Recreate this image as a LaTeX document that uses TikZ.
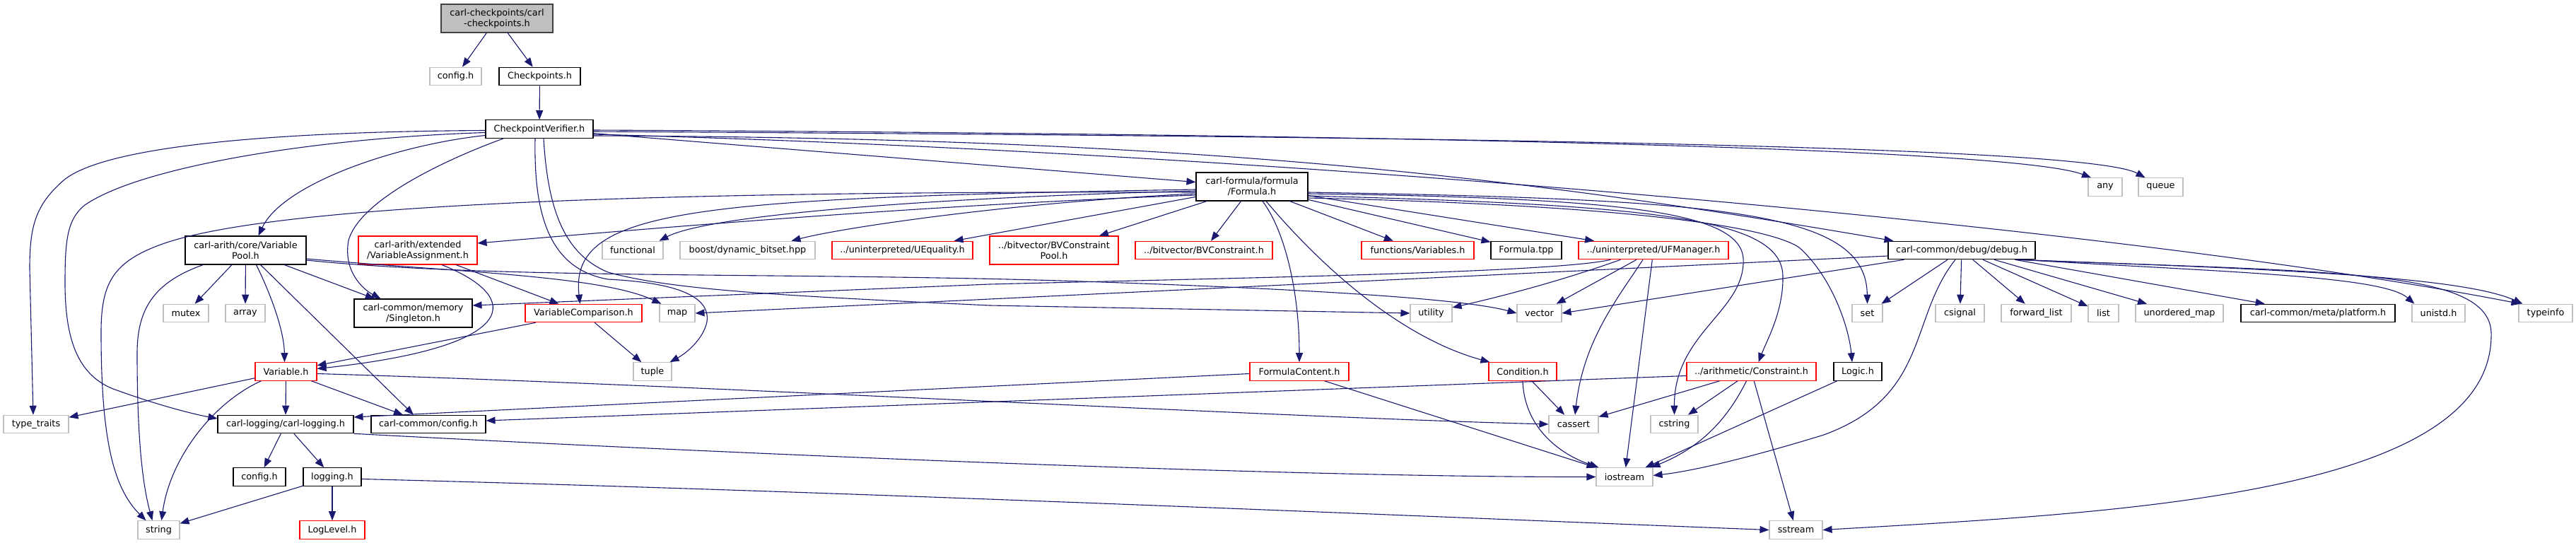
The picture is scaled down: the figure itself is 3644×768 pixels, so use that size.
\documentclass[tikz,border=0pt]{standalone}
\usepackage{fontspec}
\setmainfont{DejaVu Sans}
\usetikzlibrary{arrows.meta,calc}
\definecolor{edgec}{HTML}{191970}
\definecolor{extc}{HTML}{BFBFBF}
\definecolor{truncc}{HTML}{FF0000}
\definecolor{topfill}{HTML}{BFBFBF}
\definecolor{topdraw}{HTML}{404040}
\newcommand\nfont{\fontsize{12.8pt}{15pt}\selectfont}
\tikzset{
  nd/.style={draw=black, line width=1.1pt, fill=white, minimum height=25.5pt, inner xsep=3pt, inner ysep=0pt, font=\nfont, align=center},
  extn/.style={nd, draw=extc},
  trn/.style={nd, draw=truncc},
  topn/.style={nd, draw=topdraw, fill=topfill},
  two/.style={minimum height=40pt},
  mw/.style={minimum width=#1},
  dep/.style={draw=edgec, line width=1.1pt, -{Triangle[length=13pt,width=10pt]}},
}
\begin{document}
\begin{tikzpicture}[x=1pt,y=-1pt]
\fill[white] (0,0) rectangle (3644,768);
\useasboundingbox (0,0) rectangle (3644,768);
% nodes
\node[topn,two,mw=158] (top) at (703,26) {carl-checkpoints/carl\\-checkpoints.h};
\node[extn,mw=73] (cfga) at (644.5,108) {config.h};
\node[nd,mw=115] (cp) at (763.5,108) {Checkpoints.h};
\node[nd,mw=152] (cv) at (763,182.5) {CheckpointVerifier.h};
\node[nd,two,mw=158] (formula) at (1771,264) {carl-formula/formula\\/Formula.h};
\node[extn,mw=48] (any) at (2978,264.5) {any};
\node[extn,mw=63] (queue) at (3056.5,264.5) {queue};
\node[nd,two,mw=171] (vpool) at (347.5,354) {carl-arith/core/Variable\\Pool.h};
\node[trn,two,mw=168] (vassign) at (591,354) {carl-arith/extended\\/VariableAssignment.h};
\node[extn,mw=86] (functional) at (895,354) {functional};
\node[extn,mw=191] (boost) at (1057.5,354) {boost/dynamic\_bitset.hpp};
\node[trn,mw=199] (uequality) at (1276.5,354) {../uninterpreted/UEquality.h};
\node[trn,two,mw=182] (bvpool) at (1491,354) {../bitvector/BVConstraint\\Pool.h};
\node[trn,mw=194] (bvcons) at (1703,354) {../bitvector/BVConstraint.h};
\node[trn,mw=159] (fvars) at (2005.5,354) {functions/Variables.h};
\node[nd,mw=100] (ftpp) at (2159,354) {Formula.tpp};
\node[trn,mw=212] (ufman) at (2339,354) {../uninterpreted/UFManager.h};
\node[nd,mw=208] (debug) at (2775,354) {carl-common/debug/debug.h};
\node[extn,mw=64] (mutex) at (263,443) {mutex};
\node[extn,mw=56] (array) at (347,443) {array};
\node[nd,two,mw=167] (singleton) at (584.5,443) {carl-common/memory\\/Singleton.h};
\node[trn,mw=165] (vcomp) at (825.5,443) {VariableComparison.h};
\node[extn,mw=50] (map) at (958,443) {map};
\node[extn,mw=59] (utility) at (2024.5,443) {utility};
\node[extn,mw=63] (vector) at (2177.5,443) {vector};
\node[extn,mw=43] (set) at (2641.5,443) {set};
\node[extn,mw=69] (csignal) at (2772.5,443) {csignal};
\node[extn,mw=99] (fwdlist) at (2880.5,443) {forward\_list};
\node[extn,mw=43] (list) at (2975.5,443) {list};
\node[extn,mw=124] (umap) at (3083,443) {unordered\_map};
\node[nd,mw=218] (platform) at (3279,443) {carl-common/meta/platform.h};
\node[extn,mw=75] (unistd) at (3449.5,443) {unistd.h};
\node[extn,mw=76] (typeinfo) at (3601,443) {typeinfo};
\node[trn,mw=87] (variable) at (404.5,525.5) {Variable.h};
\node[extn,mw=54] (tuple) at (923,525.5) {tuple};
\node[trn,mw=140] (fcontent) at (1838,525.5) {FormulaContent.h};
\node[trn,mw=96] (condition) at (2154,525.5) {Condition.h};
\node[trn,mw=183] (constraint) at (2477.5,525.5) {../arithmetic/Constraint.h};
\node[nd,mw=68] (logic) at (2628,525.5) {Logic.h};
\node[extn,mw=92] (typetraits) at (51,600) {type\_traits};
\node[nd,mw=192] (logging) at (404,600) {carl-logging/carl-logging.h};
\node[nd,mw=162] (ccconfig) at (606,600) {carl-common/config.h};
\node[extn,mw=70] (cassert) at (2226,600) {cassert};
\node[extn,mw=67] (cstring) at (2368.5,600) {cstring};
\node[nd,mw=74] (cfgb) at (367,674.5) {config.h};
\node[nd,mw=82] (loggingh) at (470,674.5) {logging.h};
\node[extn,mw=80] (iostream) at (2298,674.5) {iostream};
\node[extn,mw=59] (string) at (224.5,749.5) {string};
\node[trn,mw=92] (loglevel) at (470,749.5) {LogLevel.h};
\node[extn,mw=75] (sstream) at (2540.5,749.5) {sstream};
% edges
\draw[dep] (top) -- (cfga);
\draw[dep] (top) -- (cp);
\draw[dep] (cp) -- (cv);
\draw[dep] ($(cv.west)+(0,2)$) .. controls (400,186) and (150,205) .. (90,255) .. controls (50,290) and (42,320) .. (42,380) -- ($(typetraits.north)+(-4,0)$);
\draw[dep] ($(cv.west)+(0,5)$) .. controls (450,195) and (200,235) .. (120,290) .. controls (95,310) and (92,340) .. (92,400) .. controls (92,480) and (110,530) .. (160,550) .. controls (220,572) and (270,585) .. ($(logging.west)+(0,-8)$);
\draw[dep] ($(cv.west)+(0,9)$) .. controls (560,205) and (400,260) .. ($(vpool.north)+(18,0)$);
\draw[dep] ($(cv.south west)+(26,0)$) .. controls (640,222) and (510,280) .. (493,340) .. controls (485,385) and (515,410) .. ($(singleton.north)+(-46,0)$);
\draw[dep] ($(cv.south)+(-6,0)$) .. controls (755,300) and (775,380) .. (860,395) .. controls (960,400) and (1005,420) .. (1000,455) .. controls (995,480) and (970,500) .. ($(tuple.north east)+(-3,0)$);
\draw[dep] ($(cv.south)+(6,0)$) .. controls (775,300) and (800,360) .. (860,385) .. controls (950,410) and (1100,418) .. (1400,432) -- (utility.west);
\draw[dep] (cv) -- (formula);
\draw[dep] ($(cv.east)+(0,1.5)$) .. controls (2000,190) and (2850,210) .. ($(any.north)+(-20,0)$);
\draw[dep] ($(cv.east)+(0,3.5)$) .. controls (2000,193) and (2950,205) .. ($(queue.north)+(-22,0)$);
\draw[dep] ($(cv.east)+(0,7.5)$) .. controls (1800,215) and (3000,320) .. ($(typeinfo.north west)+(3,0)$);
\draw[dep] ($(cv.east)+(0,9.5)$) .. controls (1700,195) and (2150,250) .. ($(debug.north west)+(8,0)$);
% VariablePool
\draw[dep] ($(vpool.south west)+(26,0)$) .. controls (215,400) and (194,440) .. (194,500) .. controls (194,630) and (203,690) .. ($(string.north)+(-9,0)$);
\draw[dep] (vpool) -- (mutex);
\draw[dep] (vpool) -- (array);
\draw[dep] ($(vpool.south)+(15,0)$) .. controls (385,420) and (402,470) .. ($(variable.north)+(-2,0)$);
\draw[dep] ($(vpool.south)+(21,0)$) -- ($(ccconfig.north)+(-21,0)$);
\draw[dep] (vpool) -- (singleton);
\draw[dep] ($(vpool.east)+(0,12)$) .. controls (650,385) and (850,390) .. ($(map.north west)+(3,0)$);
\draw[dep] ($(vpool.east)+(0,14)$) .. controls (700,395) and (1100,385) .. (1500,397) .. controls (1900,410) and (2080,425) .. (vector.west);
% VariableAssignment, VariableComparison
\draw[dep] ($(vassign.south)+(34,0)$) .. controls (740,420) and (740,490) .. ($(variable.east)+(0,-4)$);
\draw[dep] (vassign) -- (vcomp);
\draw[dep] (vcomp) -- (variable);
\draw[dep] (vcomp) -- (tuple);
% Variable
\draw[dep] (variable) -- (typetraits);
\draw[dep] (variable) -- (logging);
\draw[dep] (variable) -- (ccconfig);
\draw[dep] ($(variable.south west)+(9,0)$) .. controls (300,570) and (240,650) .. ($(string.north)+(4,0)$);
\draw[dep] ($(variable.east)+(0,3)$) .. controls (1000,545) and (1800,590) .. (cassert.west);
% logging
\draw[dep] (logging) -- (cfgb);
\draw[dep] (logging) -- (loggingh);
\draw[dep] (logging.south east) .. controls (1000,640) and (1800,675) .. (iostream.west);
\draw[dep] (loggingh) -- (string);
\draw[dep] (loggingh) -- (loglevel);
\draw[dep] ($(loggingh.east)+(0,3)$) .. controls (1200,695) and (2000,730) .. (sstream.west);
% Formula
\draw[dep] ($(formula.west)+(0,8)$) .. controls (1000,270) and (400,285) .. (230,345) .. controls (160,370) and (143,400) .. (143,470) .. controls (143,620) and (160,690) .. ($(string.north)+(-18,0)$);
\draw[dep] ($(formula.west)+(0,12)$) .. controls (1300,290) and (900,325) .. ($(vassign.east)+(0,-10)$);
\draw[dep] ($(formula.west)+(0,4)$) .. controls (980,280) and (805,295) .. ($(vcomp.north)+(-5,0)$);
\draw[dep] ($(formula.west)+(0,6)$) .. controls (1300,280) and (1000,305) .. ($(functional.north east)+(-6,0)$);
\draw[dep] ($(formula.west)+(0,10)$) .. controls (1450,285) and (1200,320) .. ($(boost.north)+(62,0)$);
\draw[dep] (formula) -- (uequality);
\draw[dep] (formula) -- (bvpool);
\draw[dep] (formula) -- (bvcons);
\draw[dep] (formula) -- (fvars);
\draw[dep] ($(formula.south)+(15,0)$) .. controls (1820,330) and (1838,420) .. (fcontent.north);
\draw[dep] ($(formula.south)+(20,0)$) .. controls (1880,390) and (1990,480) .. ($(condition.north west)+(2,0)$);
\draw[dep] (formula) -- (ftpp);
\draw[dep] (formula) -- (ufman);
\draw[dep] ($(formula.east)+(0,8)$) .. controls (2450,282) and (2640,300) .. (set.north);
\draw[dep] ($(formula.east)+(0,10)$) .. controls (2300,280) and (2460,300) .. (2466,365) .. controls (2470,440) and (2368,470) .. (cstring.north);
\draw[dep] ($(formula.east)+(0,13)$) .. controls (2350,290) and (2520,310) .. (2522,390) .. controls (2523,440) and (2500,480) .. ($(constraint.north)+(10,0)$);
\draw[dep] ($(formula.east)+(0,16)$) .. controls (2300,290) and (2500,320) .. (2545,350) .. controls (2590,390) and (2615,460) .. ($(logic.north)+(-8,0)$);
% UFManager
\draw[dep] ($(ufman.south west)+(46,0)$) .. controls (2200,385) and (1800,392) .. (1400,402) -- ($(singleton.east)+(0,-11)$);
\draw[dep] ($(ufman.south west)+(60,0)$) .. controls (2200,400) and (2120,420) .. ($(utility.east)+(0,-8)$);
\draw[dep] (ufman) -- (vector);
\draw[dep] ($(ufman.south)+(-15,0)$) .. controls (2290,420) and (2240,480) .. ($(cassert.north)+(2,0)$);
\draw[dep] (ufman) -- (iostream);
% debug
\draw[dep] ($(debug.west)+(0,8)$) -- (map.east);
\draw[dep] ($(debug.south west)+(23,0)$) -- (vector.east);
\draw[dep] (debug) -- (set);
\draw[dep] (debug) -- (csignal);
\draw[dep] (debug) -- (fwdlist);
\draw[dep] (debug) -- (list);
\draw[dep] (debug) -- (umap);
\draw[dep] (debug) -- (platform);
\draw[dep] ($(debug.south east)+(-20,0)$) .. controls (3150,385) and (3370,390) .. ($(unistd.north west)+(4,0)$);
\draw[dep] ($(debug.south east)+(-25,0)$) .. controls (3200,380) and (3480,390) .. ($(typeinfo.north west)+(6,0)$);
\draw[dep] ($(debug.south east)+(-28,0)$) .. controls (3300,385) and (3520,380) .. (3524,470) .. controls (3530,700) and (3000,725) .. (sstream.east);
\draw[dep] ($(debug.south)+(-9,0)$) .. controls (2700,450) and (2730,560) .. (2580,615) .. controls (2450,655) and (2380,668) .. ($(iostream.east)+(0,-2)$);
% Condition, Constraint, Logic, FormulaContent
\draw[dep] (condition) -- (cassert);
\draw[dep] (condition.south) .. controls (2156,600) and (2200,640) .. ($(iostream.north west)+(4,0)$);
\draw[dep] ($(constraint.west)+(0,6)$) -- ($(ccconfig.east)+(0,-5)$);
\draw[dep] (constraint) -- (cassert);
\draw[dep] (constraint) -- (cstring);
\draw[dep] ($(constraint.south)+(-7,0)$) .. controls (2440,600) and (2400,635) .. ($(iostream.north east)+(-3,0)$);
\draw[dep] (constraint) -- (sstream);
\draw[dep] (logic) -- (iostream);
\draw[dep] ($(fcontent.west)+(0,3)$) -- ($(logging.east)+(0,-10)$);
\draw[dep] ($(fcontent.south east)+(-35,0)$) -- (iostream.north west);
\end{tikzpicture}
\end{document}
